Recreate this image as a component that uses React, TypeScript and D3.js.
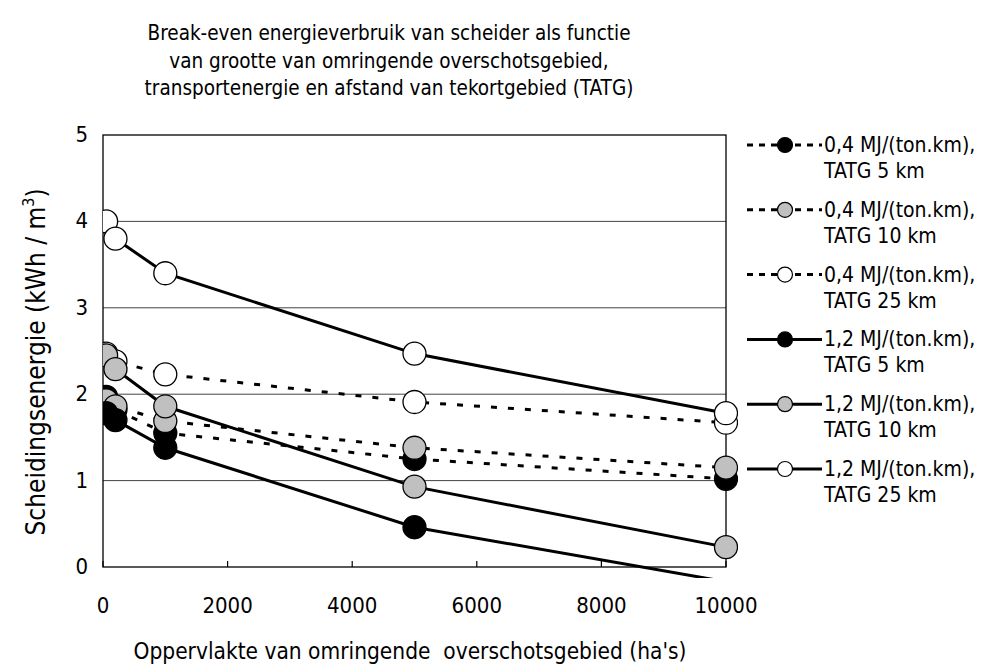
import React, { useEffect, useRef } from 'react';
import * as d3 from 'd3';

// oppervlakte omringend overschotsgebied (ha)
const areas = [50, 200, 1000, 5000, 10000];

// scheidingsenergie (kWh / m3) per reeks
const low5 = [1.97, 1.82, 1.55, 1.25, 1.02];
const low10 = [1.93, 1.86, 1.69, 1.38, 1.15];
const low25 = [2.47, 2.38, 2.23, 1.91, 1.67];
const high5 = [1.78, 1.7, 1.38, 0.46, -0.17];
const high10 = [2.45, 2.29, 1.86, 0.93, 0.23];
const high25 = [4.0, 3.8, 3.4, 2.47, 1.78];

const seriesNames = [
  ['0,4 MJ/(ton.km),', 'TATG 5 km'],
  ['0,4 MJ/(ton.km),', 'TATG 10 km'],
  ['0,4 MJ/(ton.km),', 'TATG 25 km'],
  ['1,2 MJ/(ton.km),', 'TATG 5 km'],
  ['1,2 MJ/(ton.km),', 'TATG 10 km'],
  ['1,2 MJ/(ton.km),', 'TATG 25 km'],
];
const seriesValues = [low5, low10, low25, high5, high10, high25];
const seriesFill = ['#000', '#c0c0c0', '#fff', '#000', '#c0c0c0', '#fff'];
const seriesDashed = [true, true, true, false, false, false];

const xTicks = [0, 2000, 4000, 6000, 8000, 10000];
const yTicks = [0, 1, 2, 3, 4, 5];

const titleLines = [
  'Break-even energieverbruik van scheider als functie',
  'van grootte van omringende overschotsgebied,',
  'transportenergie en afstand van tekortgebied (TATG)',
];

const FONT = "'Liberation Sans Narrow', 'DejaVu Sans Condensed', 'Liberation Sans', sans-serif";

const App = () => {
  const ref = useRef<SVGSVGElement>(null);

  useEffect(() => {
    const width = 986;
    const height = 666;
    const left = 103;
    const right = 726;
    const top = 135;
    const bottom = 567;

    const x = d3.scaleLinear().domain([0, 10000]).range([left, right]);
    const y = d3.scaleLinear().domain([0, 5]).range([bottom, top]);

    const svg = d3.select(ref.current).attr('width', width).attr('height', height);
    svg.selectAll('*').remove();

    svg.append('rect').attr('width', width).attr('height', height).attr('fill', '#fff');

    svg
      .append('defs')
      .append('clipPath')
      .attr('id', 'plotclip')
      .append('rect')
      .attr('x', left)
      .attr('y', top - 12)
      .attr('width', right - left + 12)
      .attr('height', bottom - top + 23);

    // title
    svg
      .append('g')
      .selectAll('text')
      .data(titleLines)
      .enter()
      .append('text')
      .attr('x', 389)
      .attr('y', (d, i) => 40 + i * 27.5)
      .attr('text-anchor', 'middle')
      .style('font-family', FONT)
      .style('font-size', '20.5px')
      .text((d) => d);

    // gridlines
    svg
      .append('g')
      .selectAll('line')
      .data(yTicks.slice(1, -1))
      .enter()
      .append('line')
      .attr('x1', left)
      .attr('x2', right)
      .attr('y1', (d) => y(d))
      .attr('y2', (d) => y(d))
      .attr('stroke', '#444')
      .attr('stroke-width', 1);

    // x ticks (inwards)
    svg
      .append('g')
      .selectAll('line')
      .data(xTicks)
      .enter()
      .append('line')
      .attr('x1', (d) => x(d))
      .attr('x2', (d) => x(d))
      .attr('y1', bottom)
      .attr('y2', bottom - 6)
      .attr('stroke', '#000')
      .attr('stroke-width', 1.2);

    // frame
    svg
      .append('rect')
      .attr('x', left)
      .attr('y', top)
      .attr('width', right - left)
      .attr('height', bottom - top)
      .attr('fill', 'none')
      .attr('stroke', '#000')
      .attr('stroke-width', 1.3);

    // tick labels
    svg
      .append('g')
      .selectAll('text')
      .data(xTicks)
      .enter()
      .append('text')
      .attr('x', (d) => x(d))
      .attr('y', 613)
      .attr('text-anchor', 'middle')
      .style('font-family', FONT)
      .style('font-size', '22px')
      .text((d) => d);

    svg
      .append('g')
      .selectAll('text')
      .data(yTicks)
      .enter()
      .append('text')
      .attr('x', 88)
      .attr('y', (d) => y(d) + 7)
      .attr('text-anchor', 'end')
      .style('font-family', FONT)
      .style('font-size', '22px')
      .text((d) => d);

    // axis titles
    svg
      .append('text')
      .attr('x', 410)
      .attr('y', 659)
      .attr('text-anchor', 'middle')
      .style('font-family', FONT)
      .style('font-size', '22.5px')
      .style('white-space', 'pre')
      .text("Oppervlakte van omringende  overschotsgebied (ha's)");

    const yTitle = svg
      .append('text')
      .attr('transform', `translate(45, 362) rotate(-90)`)
      .attr('text-anchor', 'middle')
      .style('font-family', FONT)
      .style('font-size', '26px');
    yTitle.append('tspan').text('Scheidingsenergie (kWh / m');
    yTitle.append('tspan').attr('dy', -11).style('font-size', '16px').text('3');
    yTitle.append('tspan').attr('dy', 11).text(')');

    // series
    const line = d3
      .line<number>()
      .x((d, i) => x(areas[i]))
      .y((d) => y(d));

    const plot = svg.append('g').attr('clip-path', 'url(#plotclip)');

    plot
      .append('g')
      .selectAll('path')
      .data(seriesValues)
      .enter()
      .append('path')
      .attr('d', (d) => line(d))
      .attr('fill', 'none')
      .attr('stroke', '#000')
      .attr('stroke-width', 3)
      .attr('stroke-dasharray', (d, i) => (seriesDashed[i] ? '6,11' : null));

    seriesValues.forEach((vals, s) => {
      plot
        .append('g')
        .selectAll('circle')
        .data(vals.map((v, i) => ({ a: areas[i], v })).filter((p) => p.v >= 0))
        .enter()
        .append('circle')
        .attr('cx', (d) => x(d.a))
        .attr('cy', (d) => y(d.v))
        .attr('r', 11.5)
        .attr('fill', seriesFill[s])
        .attr('stroke', '#000')
        .attr('stroke-width', 1.3);
    });

    // lines are cut a little below the x axis, as in the original
    svg
      .append('rect')
      .attr('x', left + 1)
      .attr('y', bottom + 11)
      .attr('width', right - left + 20)
      .attr('height', 14)
      .attr('fill', '#fff');

    // legend
    const legend = svg
      .append('g')
      .selectAll('g')
      .data(seriesNames)
      .enter()
      .append('g')
      .attr('transform', (d, i) => `translate(0, ${145 + i * 64.8})`);

    legend
      .append('line')
      .attr('x1', 747)
      .attr('x2', 822)
      .attr('y1', 0)
      .attr('y2', 0)
      .attr('stroke', '#000')
      .attr('stroke-width', 3)
      .attr('stroke-dasharray', (d, i) => (seriesDashed[i] ? '6,6' : null));

    legend
      .append('circle')
      .attr('cx', 785)
      .attr('cy', 0)
      .attr('r', 7.5)
      .attr('fill', (d, i) => seriesFill[i])
      .attr('stroke', '#000')
      .attr('stroke-width', 1.2);

    legend
      .append('text')
      .attr('x', 824)
      .attr('y', 7)
      .style('font-family', FONT)
      .style('font-size', '21px')
      .text((d) => d[0]);

    legend
      .append('text')
      .attr('x', 824)
      .attr('y', 33)
      .style('font-family', FONT)
      .style('font-size', '21px')
      .text((d) => d[1]);
  }, []);

  return <svg ref={ref} style={{ position: 'absolute', left: 0, top: 0 }} />;
};

export default App;
